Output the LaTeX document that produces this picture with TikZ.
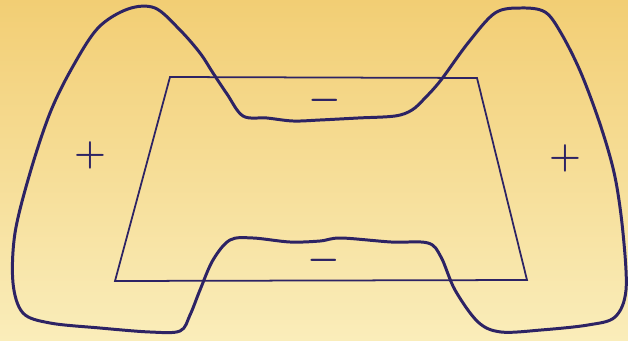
\documentclass[tikz,border=0pt]{standalone}
\definecolor{tinta}{RGB}{45,35,100}
\definecolor{papelarriba}{RGB}{242,206,116}
\definecolor{papelabajo}{RGB}{250,237,186}
\begin{document}
\begin{tikzpicture}[
    x=0.02cm, y=-0.02cm,
    borde/.style={draw=tinta, line width=1.7pt, line join=round},
    marco/.style={draw=tinta, line width=1.0pt, line join=miter},
    signo/.style={text=tinta, font=\huge\boldmath, inner sep=0pt}
]

% Fondo de papel
\shade[top color=papelarriba, bottom color=papelabajo] (0,0) rectangle (628,341);
\useasboundingbox (0,0) rectangle (628,341);

% Trapecio
\draw[marco] (170,77) -- (477,78) -- (527,280) -- (115,281) -- cycle;

% Contorno cerrado
\draw[borde] plot[smooth cycle, tension=0.55] coordinates {
    (128,9) (155,8) (180,30) (200,53) (213,73) (227,94) (243,116)
    (267,118) (293,121) (320,120) (358,118) (395,116) (412,110)
    (425,98) (441,80) (468,43) (495,13) (521,8) (545,12) (561,33)
    (581,73) (601,127) (615,177) (623,233) (626,290) (615,317)
    (588,325) (541,330) (501,332) (478,322) (455,290) (441,257)
    (428,243) (391,242) (341,238) (320,241) (290,242) (253,238)
    (230,240) (213,260) (200,290) (190,315) (180,331) (150,332)
    (100,328) (50,323) (23,313) (13,283) (15,233) (30,173)
    (50,113) (72,68) (98,28)
};

% Signos: nombre, x, y, texto
\foreach \name/\px/\py/\txt in {
    masIzq/90/155/+,
    masDer/565/158/+,
    menosArr/325/100/-,
    menosAba/324/260/-
} {
    \node[signo] (\name) at (\px,\py) {$\txt$};
}
\end{tikzpicture}
\end{document}
